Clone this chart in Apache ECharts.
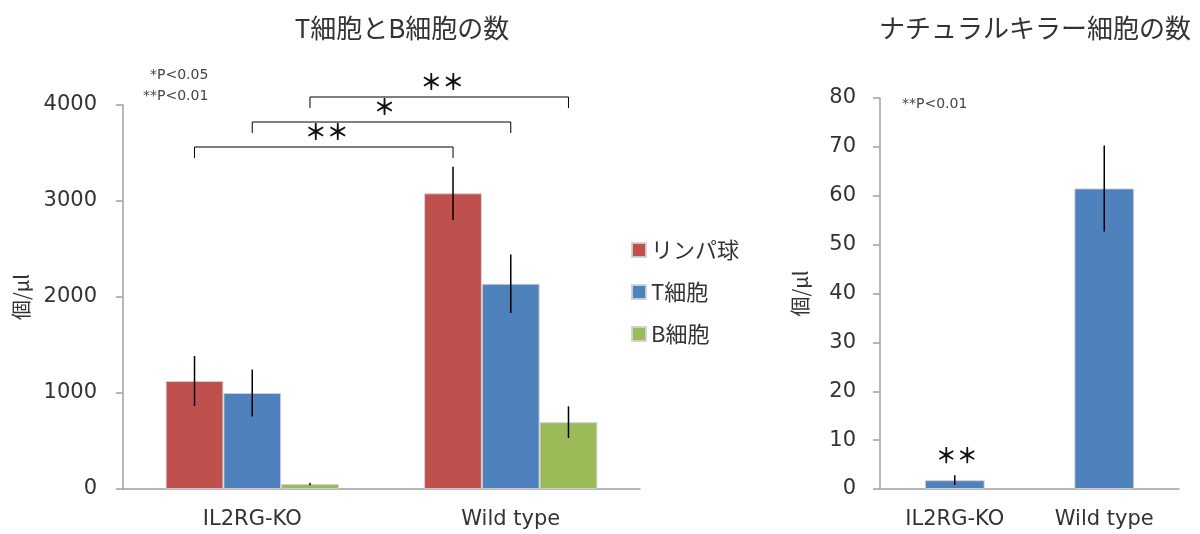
<!DOCTYPE html>
<html>
<head>
<meta charset="utf-8">
<script src="https://cdn.jsdelivr.net/npm/echarts@6/dist/echarts.min.js"></script>
<style>
  html, body { margin: 0; padding: 0; background: #fff; }
  #chart { width: 1200px; height: 534px; }
</style>
</head>
<body>
<div id="chart"></div>
<script>
// Blood cell counts per microlitre, IL2RG knockout vs wild type
const categories = ['IL2RG-KO', 'Wild type'];
const seriesNames = ['リンパ球', 'T細胞', 'B細胞'];

const lymphocyte = [1125, 3080];
const lymphocyteErr = [260, 278];
const tCell = [1000, 2138];
const tCellErr = [245, 305];
const bCell = [52, 696];
const bCellErr = [13, 165];

const nkCell = [1.8, 61.5];
const nkCellErr = [1.0, 8.8];
const nkMarks = ['＊＊', ''];

// Significance brackets: compare the same series between the two groups
const bracketSeries = [0, 1, 2];
const bracketLabels = ['＊＊', '＊', '＊＊'];

const leftTicks = [0, 1000, 2000, 3000, 4000];
const rightTicks = [0, 10, 20, 30, 40, 50, 60, 70, 80];

const colors = ['#C0504D', '#4F81BD', '#9BBB59'];
const FONT = "'DejaVu Sans', 'Noto Sans CJK JP', sans-serif";
const CJK = "'Noto Sans CJK JP', 'DejaVu Sans', sans-serif";
const GAP = 0.33;

const groupValues = [lymphocyte, tCell, bCell];
const groupErrors = [lymphocyteErr, tCellErr, bCellErr];

function barOffset(api, s, count, gap) {
  const band = api.size([1, 0])[0];
  const w = band * (1 - gap) / count;
  return (s - (count - 1) / 2) * w;
}

function errorSeries(name, xIdx, yIdx, vals, errs, s, count, gap, marks) {
  return {
    type: 'custom',
    name: name,
    xAxisIndex: xIdx,
    yAxisIndex: yIdx,
    z: 5,
    silent: true,
    data: vals.map((v, i) => [i, v - errs[i], v + errs[i]]),
    renderItem: function (params, api) {
      const cat = api.value(0);
      const lo = api.coord([cat, api.value(1)]);
      const hi = api.coord([cat, api.value(2)]);
      const x = lo[0] + barOffset(api, s, count, gap);
      const children = [{
        type: 'line',
        shape: { x1: x, y1: lo[1], x2: x, y2: hi[1] },
        style: { stroke: '#000', lineWidth: 1.5 }
      }];
      if (marks && marks[params.dataIndex]) {
        children.push({
          type: 'text',
          style: {
            text: marks[params.dataIndex], x: x + 2, y: hi[1] - 10,
            align: 'center', verticalAlign: 'bottom',
            font: 'bold 21px ' + CJK, fill: '#111'
          }
        });
      }
      return { type: 'group', children: children };
    }
  };
}

const series = [];
seriesNames.forEach((n, s) => {
  series.push({
    type: 'bar',
    name: n,
    xAxisIndex: 0,
    yAxisIndex: 0,
    data: groupValues[s],
    barGap: '0%',
    barCategoryGap: (GAP * 100) + '%',
    itemStyle: { color: colors[s], borderColor: 'rgba(210,210,210,0.9)', borderWidth: 1 }
  });
});
seriesNames.forEach((n, s) => {
  series.push(errorSeries(n + '-err', 0, 0, groupValues[s], groupErrors[s], s, 3, GAP, null));
});

// Brackets above the left plot
series.push({
  type: 'custom',
  name: 'brackets',
  xAxisIndex: 0,
  yAxisIndex: 0,
  z: 5,
  silent: true,
  clip: false,
  data: bracketSeries.map((s, i) => [0, 0, i]),
  renderItem: function (params, api) {
    const i = params.dataIndex;
    const s = bracketSeries[i];
    const top = api.coord([0, leftTicks[leftTicks.length - 1]])[1];
    const y = top + 42 - 25 * i;
    const x1 = api.coord([0, 0])[0] + barOffset(api, s, 3, GAP);
    const x2 = api.coord([1, 0])[0] + barOffset(api, s, 3, GAP);
    const tick = 11;
    return {
      type: 'group',
      children: [{
        type: 'polyline',
        shape: { points: [[x1, y + tick], [x1, y], [x2, y], [x2, y + tick]] },
        style: { stroke: '#000', lineWidth: 1, fill: null }
      }, {
        type: 'text',
        style: {
          text: bracketLabels[i], x: (x1 + x2) / 2 + 3, y: y - 4,
          align: 'center', verticalAlign: 'bottom',
          font: 'bold 22px ' + CJK, fill: '#111'
        }
      }]
    };
  }
});

series.push({
  type: 'bar',
  name: 'NK細胞',
  xAxisIndex: 1,
  yAxisIndex: 1,
  data: nkCell,
  barCategoryGap: '60%',
  itemStyle: { color: colors[1], borderColor: 'rgba(210,210,210,0.9)', borderWidth: 1 }
});
series.push(errorSeries('NK-err', 1, 1, nkCell, nkCellErr, 0, 1, 0.6, nkMarks));

const axisLineStyle = { color: '#a0a0a0', width: 1.5 };
function yAxis(ticks, gridIndex, nameGap, margin) {
  return {
    type: 'value',
    gridIndex: gridIndex,
    min: ticks[0],
    max: ticks[ticks.length - 1],
    interval: ticks[1] - ticks[0],
    name: '個/μl',
    nameLocation: 'middle',
    nameGap: nameGap,
    nameTextStyle: { fontSize: 20, color: '#333', fontFamily: CJK },
    axisLine: { show: true, lineStyle: axisLineStyle },
    axisTick: { show: true, length: 7, lineStyle: axisLineStyle },
    axisLabel: {
      fontSize: 21, color: '#333', fontFamily: FONT, margin: margin,
      formatter: v => String(v)
    },
    splitLine: { show: false }
  };
}
function xAxis(gridIndex) {
  return {
    type: 'category',
    gridIndex: gridIndex,
    data: categories,
    axisLine: { show: true, lineStyle: axisLineStyle },
    axisTick: { show: false },
    axisLabel: { fontSize: 21, color: '#333', fontFamily: FONT, margin: 20 }
  };
}

const chart = echarts.init(document.getElementById('chart'), null, { renderer: 'canvas' });
chart.setOption({
  animation: false,
  backgroundColor: '#fff',
  title: [{
    text: 'T細胞とB細胞の数',
    left: 397, top: 10, textAlign: 'center',
    textStyle: { fontSize: 26, fontWeight: 'normal', color: '#333', fontFamily: CJK }
  }, {
    text: 'ナチュラルキラー細胞の数',
    left: 1030, top: 10, textAlign: 'center',
    textStyle: { fontSize: 26, fontWeight: 'normal', color: '#333', fontFamily: CJK }
  }],
  legend: {
    data: seriesNames,
    orient: 'vertical',
    left: 626,
    top: 234,
    itemWidth: 14,
    itemHeight: 14,
    itemGap: 20,
    icon: 'rect',
    textStyle: { fontSize: 22, color: '#333', fontFamily: CJK }
  },
  grid: [
    { left: 123, right: 560, top: 105, bottom: 45 },
    { left: 880, right: 21, top: 98, bottom: 45 }
  ],
  xAxis: [xAxis(0), xAxis(1)],
  yAxis: [yAxis(leftTicks, 0, 92, 26), yAxis(rightTicks, 1, 70, 24)],
  graphic: [
    { type: 'text', left: 150, top: 68, style: { text: '*P<0.05', font: '14px ' + FONT, fill: '#444' } },
    { type: 'text', left: 143, top: 89, style: { text: '**P<0.01', font: '14px ' + FONT, fill: '#444' } },
    { type: 'text', left: 902, top: 97, style: { text: '**P<0.01', font: '14px ' + FONT, fill: '#444' } }
  ],
  series: series
});
</script>
</body>
</html>
